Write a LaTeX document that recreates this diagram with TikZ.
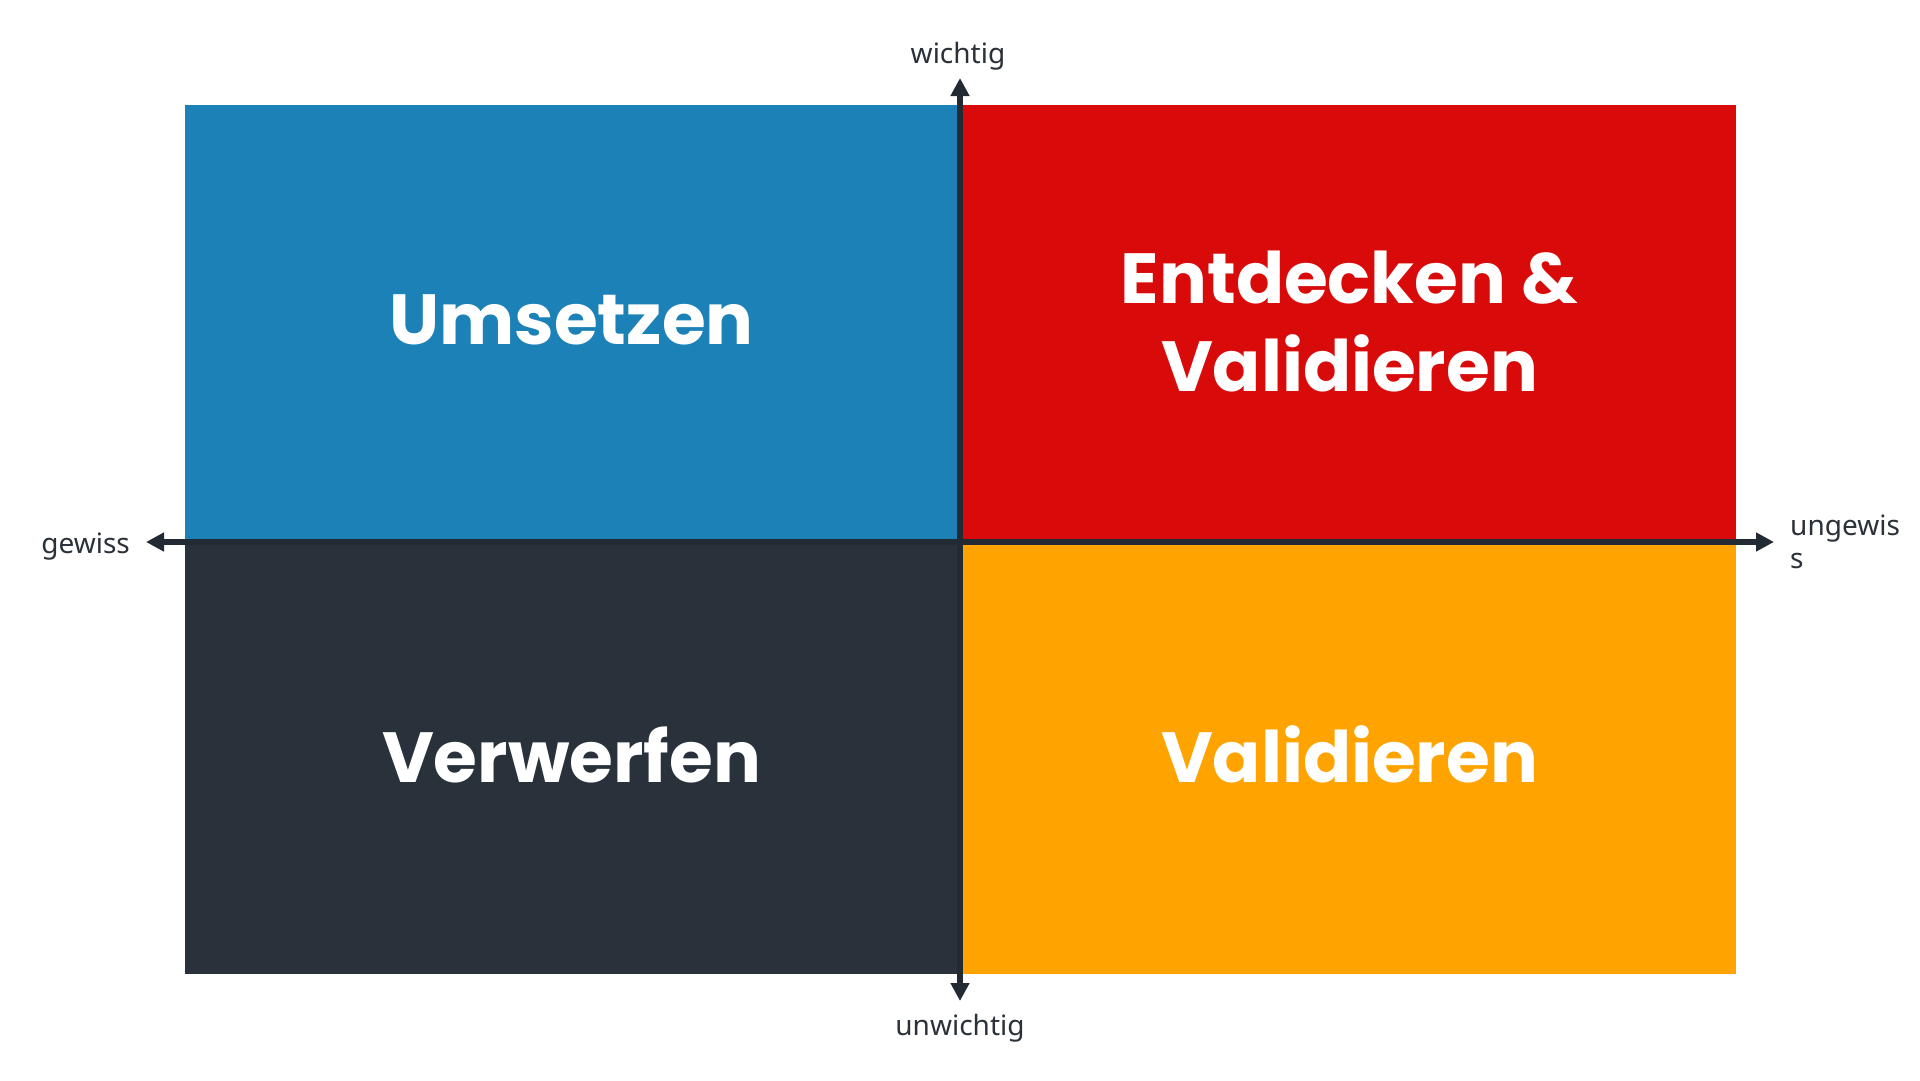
\documentclass[tikz,border=0pt]{standalone}
\usepackage{fontspec}
\usepackage{tikz}
\usetikzlibrary{positioning}
\usetikzlibrary{arrows.meta}
\setmainfont{Noto Sans}
\newfontfamily\quadrantFont{Poppins}
\definecolor{umsetzenColor}{RGB}{28,129,182}
\definecolor{entdeckenColor}{RGB}{217,10,10}
\definecolor{verwerfenColor}{RGB}{41,50,59}
\definecolor{validierenColor}{RGB}{254,163,0}
\definecolor{axisColor}{RGB}{34,43,51}
\definecolor{labelColor}{RGB}{42,49,57}
\newcommand{\quadrantText}{\quadrantFont\bfseries\fontsize{71}{88}\selectfont}
\newcommand{\axisText}{\fontsize{28}{33}\selectfont}
\tikzstyle{matrixPlane} = [x = 1pt, y = -1pt]
\tikzstyle{quadrant} = [minimum width = 773pt, minimum height = 434pt, inner sep = 0pt, outer sep = 0pt, text = white, align = center, font = \quadrantText]
\tikzstyle{singleLine} = [text height = 52pt, text depth = 7pt]
\tikzstyle{lowerQuadrant} = [quadrant, singleLine, minimum height = 429pt]
\tikzstyle{axisLine} = [color=axisColor, line width = 6pt, {Triangle[length=18pt, width=18pt]}-{Triangle[length=18pt, width=18pt]}]
\tikzstyle{axisLabel} = [color=labelColor, font=\axisText, inner sep = 0pt]
\begin{document}
\begin{tikzpicture}[matrixPlane]
    \useasboundingbox (0,0) rectangle (1920,1080);
    \node [quadrant, singleLine, fill=umsetzenColor, anchor=north west] (umsetzen) at (185,105) {Umsetzen};
    \node [quadrant, fill=entdeckenColor, right=5pt of umsetzen] (entdecken) {Entdecken \&\\Validieren};
    \node [lowerQuadrant, fill=verwerfenColor, below=6pt of umsetzen] (verwerfen) {Verwerfen};
    \node [lowerQuadrant, fill=validierenColor, below=6pt of entdecken] (validieren) {Validieren};
    \coordinate (axisTop) at (960,78);
    \coordinate (axisBottom) at (960,1001);
    \coordinate (axisLeft) at (146,542);
    \coordinate (axisRight) at (1774,542);
    \draw [axisLine] (axisBottom) -- (axisTop);
    \draw [axisLine] (axisLeft) -- (axisRight);
    \node [axisLabel, anchor=base] (wichtig) at (958,63) {wichtig};
    \node [axisLabel, anchor=base] (unwichtig) at (960,1035) {unwichtig};
    \node [axisLabel, anchor=base east] (gewiss) at (130,553) {gewiss};
    \node [axisLabel, anchor=base west, align=left] (ungewiss) at (1790,568) {ungewis\\s};
\end{tikzpicture}
\end{document}
